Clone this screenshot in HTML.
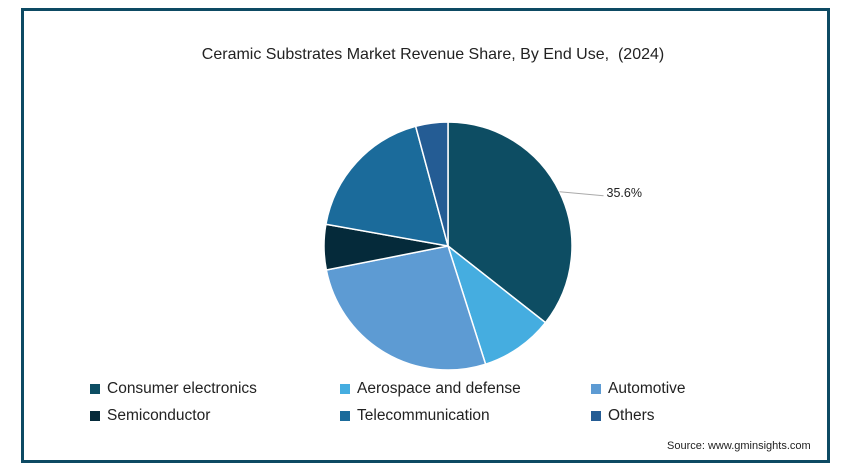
<!DOCTYPE html>
<html><head><meta charset="utf-8"><style>
body{margin:0;width:844px;height:475px;background:#fff;font-family:"Liberation Sans",sans-serif;overflow:hidden}
#frame{position:absolute;left:21px;top:8px;width:803px;height:449px;border:3px solid #0d4a63;background:#fff}
.t{position:absolute;white-space:nowrap;color:#222}
.leg{position:absolute;font-size:15.5px;color:#222;white-space:nowrap}
.leg i{display:inline-block;width:10px;height:10px;margin-right:7px;vertical-align:-1px}
</style></head><body>
<div id="frame"></div>
<div class="t" style="left:0;width:866px;text-align:center;top:46px;font-size:16px">Ceramic Substrates Market Revenue Share, By End Use,&nbsp; (2024)</div>
<svg id="pie" width="844" height="475" style="position:absolute;left:0;top:0"></svg>
<div class="leg" style="left:90px;top:380px"><i style="background:#0d4d63"></i>Consumer electronics</div>
<div class="leg" style="left:340px;top:380px"><i style="background:#45ade0"></i>Aerospace and defense</div>
<div class="leg" style="left:591px;top:380px"><i style="background:#5d9bd3"></i>Automotive</div>
<div class="leg" style="left:90px;top:407px"><i style="background:#052a3a"></i>Semiconductor</div>
<div class="leg" style="left:340px;top:407px"><i style="background:#1b6b9b"></i>Telecommunication</div>
<div class="leg" style="left:591px;top:407px"><i style="background:#245c94"></i>Others</div>
<div class="t" style="left:667px;top:440px;font-size:11px">Source: www.gminsights.com</div>
<script>
const categories=["Consumer electronics","Aerospace and defense","Automotive","Semiconductor","Telecommunication","Others"];
const values=[35.6,9.5,26.8,5.9,18.0,4.2];
const colors=["#0d4d63","#45ade0","#5d9bd3","#052a3a","#1b6b9b","#245c94"];
const labels=["35.6%","","","","",""];
const svg=document.getElementById('pie');const NS="http://www.w3.org/2000/svg";
const cx=448,cy=246,r=124;
const total=values.reduce((a,b)=>a+b,0);
function pt(a,rr){return [cx+rr*Math.sin(a),cy-rr*Math.cos(a)];}
let acc=0;
values.forEach((v,i)=>{
 const a0=acc/total*2*Math.PI;acc+=v;const a1=acc/total*2*Math.PI;
 const p0=pt(a0,r),p1=pt(a1,r);
 const p=document.createElementNS(NS,'path');
 p.setAttribute('d',`M${cx},${cy}L${p0[0]},${p0[1]}A${r},${r} 0 ${a1-a0>Math.PI?1:0} 1 ${p1[0]},${p1[1]}Z`);
 p.setAttribute('fill',colors[i]);p.setAttribute('stroke','#fff');p.setAttribute('stroke-width','1.5');
 
 
 svg.appendChild(p);
 if(labels[i]){
  const m=(a0+a1)/2;
  const q0=pt(m,r),q1=[q0[0]+44,q0[1]+4];
  const l=document.createElementNS(NS,'line');
  l.setAttribute('x1',q0[0]);l.setAttribute('y1',q0[1]);l.setAttribute('x2',q1[0]);l.setAttribute('y2',q1[1]);
  l.setAttribute('stroke','#aaa');l.setAttribute('stroke-width','1');
  
  
  svg.appendChild(l);
  const t=document.createElementNS(NS,'text');
  t.setAttribute('x',q1[0]+3);t.setAttribute('y',q1[1]+1);t.setAttribute('font-size','12.5');t.setAttribute('fill','#222');
  t.setAttribute('font-family','Liberation Sans, sans-serif');t.textContent=labels[i];
  
  
  svg.appendChild(t);
 }
});
</script>
</body></html>
